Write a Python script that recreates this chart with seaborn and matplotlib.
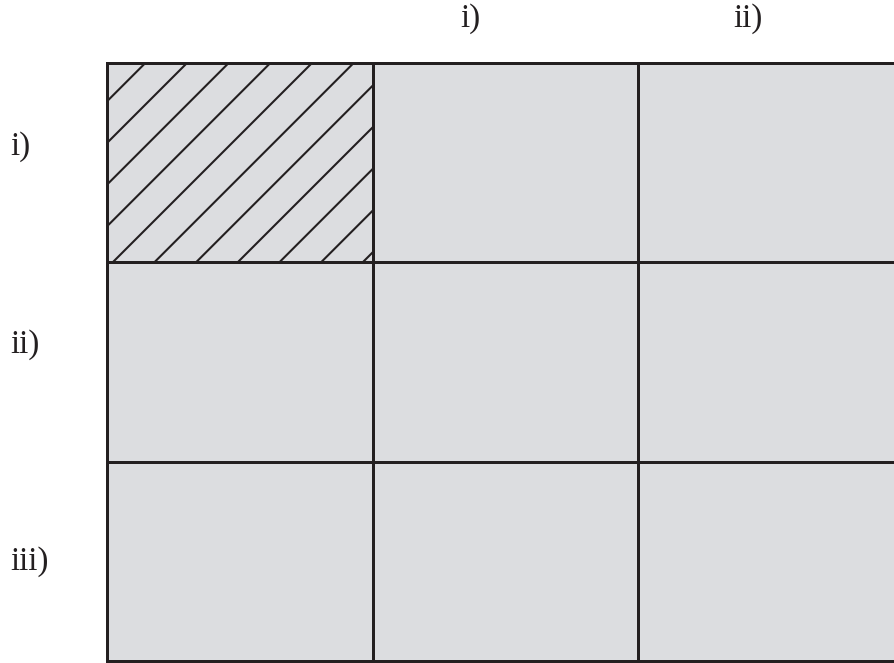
import numpy as np
import pandas as pd
import seaborn as sns
import matplotlib
matplotlib.use("Agg")
import matplotlib.pyplot as plt
from matplotlib.colors import ListedColormap
from matplotlib.patches import Rectangle

# ---- data ----
row_labels = ["i)", "ii)", "iii)"]
col_labels = ["", "i)", "ii)"]
cell_values = [[1, 1, 1],
               [1, 1, 1],
               [1, 1, 1]]
hatched_cells = [(0, 0)]  # (row, col)

FILL = "#dcdde0"
INK = "#231f20"
DPI = 250
W, H = 894, 663

sns.set_style("white")
plt.rcParams["font.family"] = ["Liberation Serif", "DejaVu Serif"]
plt.rcParams["hatch.linewidth"] = 0.6

fig = plt.figure(figsize=(W / DPI, H / DPI), dpi=DPI)
left, right, top, bottom = 107, 904, 63, 661
ax = fig.add_axes([left / W, 1 - bottom / H, (right - left) / W, (bottom - top) / H])

df = pd.DataFrame(cell_values, index=row_labels, columns=[c or " " for c in col_labels])
sns.heatmap(df, cmap=ListedColormap([FILL]), cbar=False, linewidths=0.86,
            linecolor=INK, ax=ax, xticklabels=False, yticklabels=False)

for r, c in hatched_cells:
    ax.add_patch(Rectangle((c, r), 1, 1, facecolor="none", edgecolor=INK,
                           hatch="//", linewidth=0))

for s in ax.spines.values():
    s.set_visible(True)
    s.set_color(INK)
    s.set_linewidth(0.86)

ax.set_xlabel("")
ax.set_ylabel("")
ax.tick_params(length=0)

fs = 9.5
# column labels (pixel positions of label centres)
col_pos = [None, 470, 748]
for lab, x in zip(col_labels, col_pos):
    if lab:
        fig.text(x / W, 1 - 19 / H, lab, ha="center", va="center", fontsize=fs, color=INK)
# row labels
row_pos = [147, 345, 562]
for lab, y in zip(row_labels, row_pos):
    fig.text(10 / W, 1 - y / H, lab, ha="left", va="center", fontsize=fs, color=INK)

fig.savefig("out.png", dpi=DPI)
